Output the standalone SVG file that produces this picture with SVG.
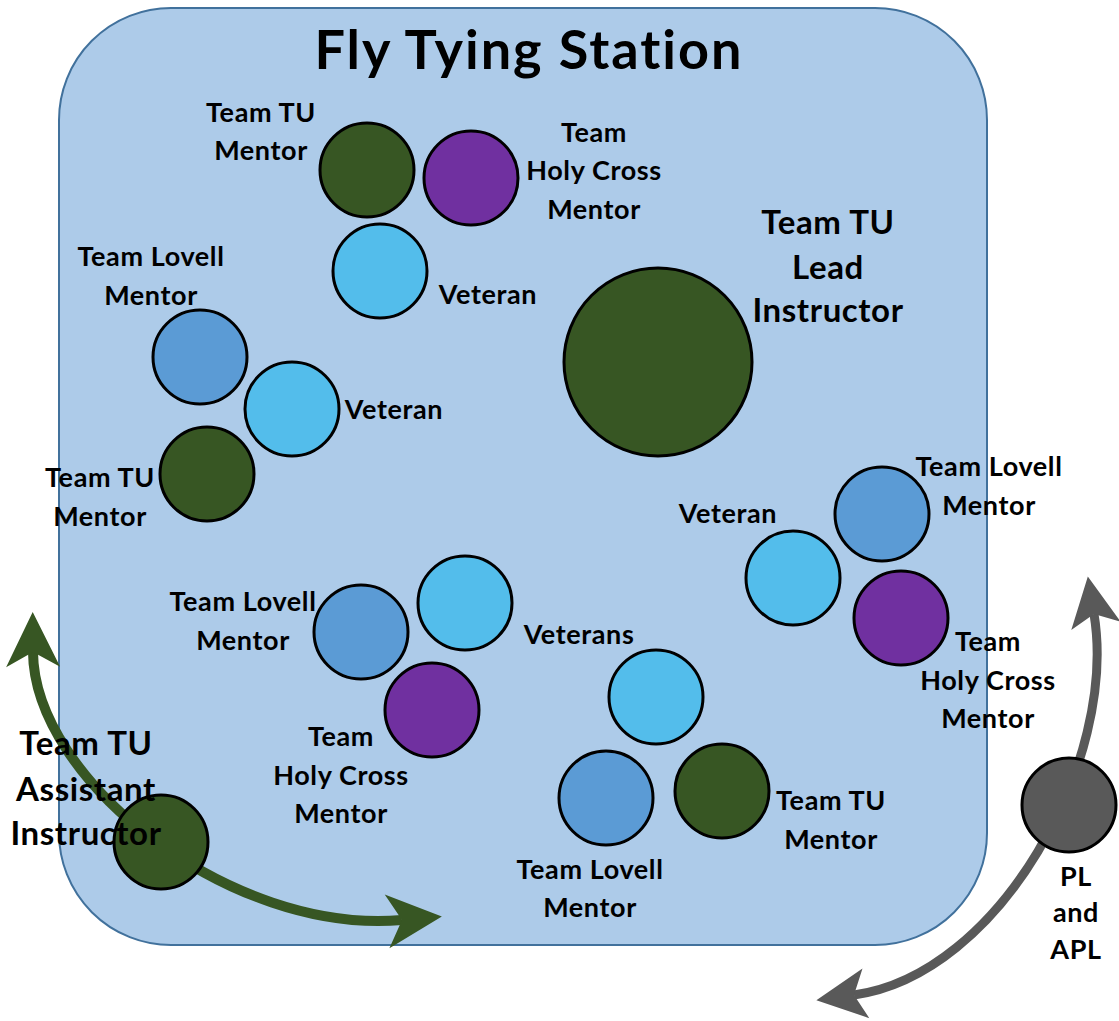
<svg xmlns="http://www.w3.org/2000/svg" width="1119" height="1021" viewBox="0 0 1119 1021">
<style>
text{font-family:Lato,"Open Sans","Liberation Sans",sans-serif;font-weight:bold;fill:#000;text-anchor:middle}
.s{font-size:27px;letter-spacing:0.6px}
.b{font-size:33px;letter-spacing:0.6px}
.t{font-size:54px;letter-spacing:2px}
circle{stroke:#000;stroke-width:3}
.dg{fill:#375623}.pu{fill:#7030A0}.lb{fill:#53BDEB}.mb{fill:#5B9BD5}.gr{fill:#595959}
</style>
<defs>
<marker id="ag" markerUnits="userSpaceOnUse" orient="auto-start-reverse" markerWidth="120" markerHeight="120" refX="0" refY="0" overflow="visible"><path d="M40,0 L-15,-27 L0,0 L-15,27 Z" fill="#375623"/></marker>
<marker id="ay" markerUnits="userSpaceOnUse" orient="auto-start-reverse" markerWidth="120" markerHeight="120" refX="0" refY="0" overflow="visible"><path d="M38,0 L-12,-25 L0,0 L-12,25 Z" fill="#595959"/></marker>
</defs>
<g id="station">
<rect x="59" y="8" width="928" height="937" rx="112" ry="112" fill="#ADCBE9" stroke="#41719C" stroke-width="2"/>
<text class="t" x="529" y="69">Fly Tying Station</text>
</g>
<g id="connectors" fill="none">
<path d="M33,652 C34,780 230,935 402,920" stroke="#375623" stroke-width="10" marker-start="url(#ag)" marker-end="url(#ag)"/>
<path d="M1094,614 C1118,760 1000,975 854,995" stroke="#595959" stroke-width="9" marker-start="url(#ay)" marker-end="url(#ay)"/>
</g>
<g id="tu-mentor-1"><circle class="dg" cx="367" cy="170" r="47"/><text class="s" x="261" y="122">Team TU</text><text class="s" x="261" y="160">Mentor</text></g>
<g id="hc-mentor-1"><circle class="pu" cx="471" cy="178" r="47"/><text class="s" x="594" y="142">Team</text><text class="s" x="594" y="180">Holy Cross</text><text class="s" x="594" y="219">Mentor</text></g>
<g id="veteran-1"><circle class="lb" cx="380" cy="271" r="47"/><text class="s" x="488" y="304">Veteran</text></g>
<g id="lead-instructor"><circle class="dg" cx="658" cy="362" r="94"/><text class="b" x="828" y="234">Team TU</text><text class="b" x="828" y="279">Lead</text><text class="b" x="828" y="322">Instructor</text></g>
<g id="lovell-mentor-1"><circle class="mb" cx="200" cy="357" r="47"/><text class="s" x="151" y="266">Team Lovell</text><text class="s" x="151" y="305">Mentor</text></g>
<g id="veteran-2"><circle class="lb" cx="292" cy="409" r="47"/><text class="s" x="394" y="419">Veteran</text></g>
<g id="tu-mentor-2"><circle class="dg" cx="207" cy="474" r="47"/><text class="s" x="100" y="487">Team TU</text><text class="s" x="100" y="526">Mentor</text></g>
<g id="lovell-mentor-2"><circle class="mb" cx="882" cy="514" r="47"/><text class="s" x="989" y="476">Team Lovell</text><text class="s" x="989" y="515">Mentor</text></g>
<g id="veteran-3"><circle class="lb" cx="793" cy="578" r="47"/><text class="s" x="728" y="523">Veteran</text></g>
<g id="hc-mentor-2"><circle class="pu" cx="901" cy="618" r="47"/><text class="s" x="988" y="651">Team</text><text class="s" x="988" y="690">Holy Cross</text><text class="s" x="988" y="728">Mentor</text></g>
<g id="lovell-mentor-3"><circle class="mb" cx="361" cy="632" r="47"/><text class="s" x="243" y="611">Team Lovell</text><text class="s" x="243" y="650">Mentor</text></g>
<g id="veterans"><circle class="lb" cx="465" cy="603" r="47"/><circle class="lb" cx="656" cy="697" r="47"/><text class="s" x="579" y="644">Veterans</text></g>
<g id="hc-mentor-3"><circle class="pu" cx="432" cy="710" r="47"/><text class="s" x="341" y="746">Team</text><text class="s" x="341" y="785">Holy Cross</text><text class="s" x="341" y="823">Mentor</text></g>
<g id="lovell-mentor-4"><circle class="mb" cx="606" cy="798" r="47"/><text class="s" x="590" y="879">Team Lovell</text><text class="s" x="590" y="917">Mentor</text></g>
<g id="tu-mentor-3"><circle class="dg" cx="722" cy="791" r="47"/><text class="s" x="831" y="810">Team TU</text><text class="s" x="831" y="849">Mentor</text></g>
<g id="assistant-instructor"><circle class="dg" cx="161" cy="842" r="47"/><text class="b" x="86" y="755">Team TU</text><text class="b" x="86" y="801">Assistant</text><text class="b" x="86" y="845">Instructor</text></g>
<g id="pl-apl"><circle class="gr" cx="1069" cy="805" r="47"/><text class="s" x="1076" y="886">PL</text><text class="s" x="1076" y="922">and</text><text class="s" x="1076" y="959">APL</text></g>
</svg>
